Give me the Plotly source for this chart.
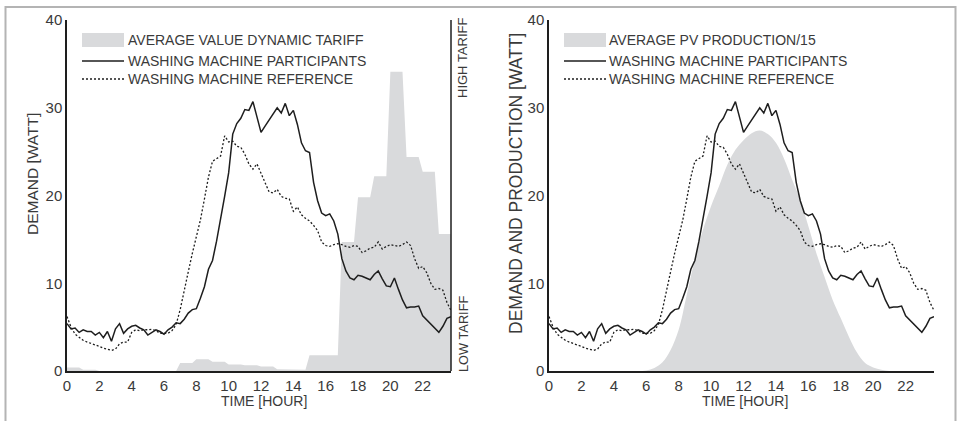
import plotly.graph_objects as go

# ---------------- data ----------------
hours = [i * 0.25 for i in range(96)]
pv_hours = [i * 0.5 for i in range(48)]

participants = [
    5.4, 4.8, 4.9, 4.4, 4.7, 4.5, 4.5, 4.1, 4.4, 3.8, 4.5, 3.4,
    4.8, 5.4, 4.3, 4.8, 5.1, 5.2, 4.9, 4.7, 4.1, 4.4, 4.7, 4.5,
    4.2, 4.7, 5.0, 5.5, 5.4, 5.9, 6.6, 7.0, 7.1, 8.3, 9.6, 11.6,
    12.6, 14.8, 17.2, 19.9, 22.6, 27.0, 28.2, 28.8, 29.8, 29.7, 30.7, 28.9,
    27.2, 27.9, 28.6, 29.3, 30.0, 29.4, 30.5, 29.1, 29.7, 28.1, 26.0, 25.1,
    24.9, 21.5, 19.4, 18.0, 17.7, 17.9, 17.1, 15.6, 12.8, 11.4, 10.6, 10.4,
    10.9, 10.8, 10.6, 10.4, 11.0, 11.4, 10.5, 9.7, 9.6, 10.6, 9.3, 8.1,
    7.2, 7.3, 7.3, 7.4, 6.3, 5.8, 5.3, 4.8, 4.4, 5.1, 6.0, 6.2,
]

reference = [
    6.2, 5.0, 4.2, 3.8, 3.5, 3.3, 3.15, 3.0, 2.8, 2.6, 2.45, 2.35,
    2.5, 3.1, 3.3, 3.3, 4.4, 4.7, 4.6, 4.7, 4.7, 4.75, 4.6, 4.3,
    4.3, 4.3, 4.6, 5.3, 7.0, 9.0, 11.3, 13.4, 15.2, 17.2, 19.6, 22.1,
    23.9, 24.2, 24.5, 26.8, 26.1, 26.2, 25.6, 25.5, 24.7, 23.6, 23.0, 23.6,
    22.5, 21.6, 20.4, 20.3, 20.7, 19.9, 19.7, 19.6, 18.2, 18.7, 17.8, 17.4,
    17.1, 16.6, 16.0, 14.7, 14.3, 14.2, 14.4, 14.5, 14.4, 14.2, 14.1, 14.3,
    14.2, 13.5, 13.7, 14.0, 14.1, 14.7, 13.9, 14.2, 14.4, 14.3, 14.2, 14.4,
    14.7, 14.3, 12.8, 11.7, 11.9, 11.2, 10.0, 9.3, 9.4, 9.2, 7.8, 6.9,
]

# hourly average dynamic tariff (scaled onto the demand axis)
tariff_hourly = [
    0.4, 0.15, 0.0, 0.0, 0.0, 0.0, 0.0, 0.9, 1.35, 1.05, 0.75, 0.65,
    0.5, 0.2, 0.15, 1.8, 1.8, 14.7, 19.8, 22.2, 34.1, 24.4, 22.7, 15.6,
]
tariff = [v for v in tariff_hourly for _ in range(4)]

# average PV production / 15, half-hourly
pv = [
    0, 0, 0, 0, 0, 0, 0, 0, 0, 0, 0, 0,
    0.05, 0.35, 1.0, 2.4, 4.7, 8.7, 12.7, 16.1, 18.8, 21.1, 23.5, 25.2,
    26.3, 27.1, 27.4, 27.0, 26.0, 24.2, 21.8, 19.5, 16.5, 13.4, 10.7, 8.1,
    6.0, 3.9, 2.1, 0.9, 0.4, 0.15, 0, 0, 0, 0, 0, 0,
]

x_ticks = list(range(0, 24, 2))
y_ticks = [0, 10, 20, 30, 40]

legend_left = ["AVERAGE VALUE DYNAMIC TARIFF", "WASHING MACHINE PARTICIPANTS", "WASHING MACHINE REFERENCE"]
legend_right = ["AVERAGE PV PRODUCTION/15", "WASHING MACHINE PARTICIPANTS", "WASHING MACHINE REFERENCE"]

# ---------------- style ----------------
W, H = 964, 421
ML, MR, MT, MB = 67, 30, 20, 50
PW = W - ML - MR
PH = H - MT - MB
FILL = "#d9dadc"
INK = "#1e1e1e"
TXT = "#3a3a3a"
FRAME = "#b4b4b4"
FONT = "Liberation Sans"
DOT = "2px,2px"


def px(xp):
    return (xp - ML) / PW


def py(yp):
    return (H - MB - yp) / PH


fig = go.Figure()

fig.add_trace(go.Scatter(x=hours, y=tariff, xaxis="x", yaxis="y", fill="tozeroy",
                         fillcolor=FILL, line=dict(width=0, color=FILL), mode="lines",
                         showlegend=False, hoverinfo="skip"))
fig.add_trace(go.Scatter(x=hours, y=reference, xaxis="x", yaxis="y", mode="lines",
                         line=dict(color=INK, width=1.3, dash=DOT), showlegend=False))
fig.add_trace(go.Scatter(x=hours, y=participants, xaxis="x", yaxis="y", mode="lines",
                         line=dict(color=INK, width=1.5), showlegend=False))

fig.add_trace(go.Scatter(x=pv_hours, y=pv, xaxis="x2", yaxis="y2", fill="tozeroy",
                         fillcolor=FILL, line=dict(width=0, color=FILL, shape="spline"),
                         mode="lines", showlegend=False, hoverinfo="skip"))
fig.add_trace(go.Scatter(x=hours, y=reference, xaxis="x2", yaxis="y2", mode="lines",
                         line=dict(color=INK, width=1.3, dash=DOT), showlegend=False))
fig.add_trace(go.Scatter(x=hours, y=participants, xaxis="x2", yaxis="y2", mode="lines",
                         line=dict(color=INK, width=1.5), showlegend=False))

base = dict(showgrid=False, zeroline=False, showline=True, linecolor=INK, linewidth=1.5,
            tickfont=dict(family=FONT, size=15, color=TXT), ticks="")

fig.update_layout(
    width=W, height=H,
    margin=dict(l=ML, r=MR, t=MT, b=MB),
    paper_bgcolor="white", plot_bgcolor="white",
    showlegend=False,
    xaxis=dict(domain=[0, px(451)], range=[0, 23.75], tickvals=x_ticks, anchor="y", **base),
    yaxis=dict(domain=[0, 1], range=[0, 40], tickvals=y_ticks, anchor="x", **base),
    xaxis2=dict(domain=[px(549), 1], range=[0, 23.75], tickvals=x_ticks, anchor="y2", **base),
    yaxis2=dict(domain=[0, 1], range=[0, 40], tickvals=y_ticks, anchor="x2", **base),
)

shapes = []
annotations = []

# outer frame (top, left, right edges; bottom lies beyond the page)
for (x0, y0, x1, y1) in [(5, 7, 956, 7), (5.5, 6, 5.5, 421), (955.5, 6, 955.5, 421)]:
    shapes.append(dict(type="line", xref="paper", yref="paper", x0=px(x0), x1=px(x1),
                       y0=py(y0), y1=py(y1), line=dict(color=FRAME, width=2)))
# tariff axis line
shapes.append(dict(type="line", xref="x domain", yref="y domain", x0=1, x1=1, y0=0, y1=1,
                   line=dict(color=INK, width=1.5)))


def legend(x_sw, x_txt, labels):
    shapes.append(dict(type="rect", xref="paper", yref="paper", x0=px(x_sw), x1=px(x_sw + 42),
                       y0=py(47), y1=py(33), fillcolor=FILL, line=dict(width=0)))
    shapes.append(dict(type="line", xref="paper", yref="paper", x0=px(x_sw), x1=px(x_sw + 42),
                       y0=py(61), y1=py(61), line=dict(color=INK, width=1.6)))
    shapes.append(dict(type="line", xref="paper", yref="paper", x0=px(x_sw), x1=px(x_sw + 42),
                       y0=py(79), y1=py(79), line=dict(color=INK, width=1.3, dash=DOT)))
    for lab, yy in zip(labels, [40, 61, 79]):
        annotations.append(dict(text=lab, xref="paper", yref="paper", x=px(x_txt), y=py(yy),
                                xanchor="left", yanchor="middle", showarrow=False,
                                font=dict(family=FONT, size=14, color=TXT)))


legend(82, 126, legend_left)
legend(564, 607, legend_right)


def txt(text, x, y, size, angle=0):
    annotations.append(dict(text=text, xref="paper", yref="paper", x=px(x), y=py(y),
                            xanchor="center", yanchor="middle", showarrow=False, textangle=angle,
                            font=dict(family=FONT, size=size, color=TXT)))


txt("HIGH TARIFF", 463, 58, 13, -90)
txt("LOW TARIFF", 463, 334, 12.8, -90)
txt("DEMAND [WATT]", 33, 174, 15.5, -90)
txt("DEMAND AND PRODUCTION [WATT]", 516, 184, 17.5, -90)
txt("TIME [HOUR]", 264, 401, 14)
txt("TIME [HOUR]", 745, 401, 14)

fig.update_layout(shapes=shapes, annotations=annotations)

fig.write_html("out.html", config={"displayModeBar": False},
               post_script="document.body.style.margin='0px';")
